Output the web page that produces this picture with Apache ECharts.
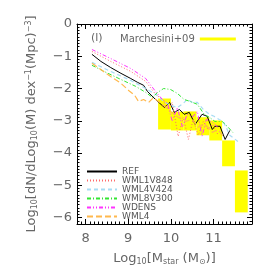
<!DOCTYPE html>
<html><head><meta charset="utf-8">
<script src="https://cdn.jsdelivr.net/npm/echarts@6/dist/echarts.min.js"></script>
<style>html,body{margin:0;padding:0;background:#fff}#c{width:274px;height:274px}</style>
</head><body><div id="c"></div>
<script>
// ---- data (log10 stellar mass, log10 number density) ----
const refX=[8.15,8.36,8.59,8.83,9.06,9.22,9.36,9.45,9.64,9.85,9.97,10.08,10.20,10.31,10.43,10.57,10.73,10.85,10.97,11.03,11.15,11.27,11.38];
const refY=[-0.94,-1.16,-1.35,-1.53,-1.69,-1.81,-1.90,-2.09,-2.34,-2.59,-2.43,-2.74,-2.65,-2.80,-2.74,-3.11,-2.80,-2.86,-3.27,-3.17,-3.17,-3.58,-3.30];

const wml1X=[8.15,8.59,9.06,9.41,9.64,9.80,9.94,10.03,10.17,10.29,10.41,10.52,10.64,10.76,10.87,10.97,11.10];
const wml1Y=[-0.85,-1.16,-1.47,-1.78,-2.18,-2.34,-2.65,-2.43,-3.48,-2.89,-3.58,-2.96,-3.45,-3.02,-3.27,-3.11,-3.42];

const wml4v424X=[8.15,8.59,9.06,9.41,9.64,9.83,9.99,10.15,10.29,10.38,10.50,10.62,10.76,10.90,11.01,11.13,11.24,11.38,11.57];
const wml4v424Y=[-1.19,-1.47,-1.75,-2.00,-2.18,-2.40,-2.52,-2.59,-2.46,-2.34,-2.43,-2.43,-2.65,-2.80,-2.86,-2.96,-3.05,-3.45,-3.64];

const wml8X=[8.15,8.48,8.83,9.17,9.41,9.57,9.69,9.83,9.99,10.15,10.31,10.45,10.62,10.78,10.90,11.03,11.20,11.34,11.45];
const wml8Y=[-1.28,-1.50,-1.72,-1.93,-2.12,-2.28,-2.12,-2.00,-2.03,-2.15,-2.34,-2.40,-2.49,-2.80,-2.89,-3.02,-3.02,-3.20,-3.36];

const wdensX=[8.15,8.59,9.06,9.41,9.64,9.80,9.92,10.03,10.15,10.27,10.38,10.50,10.62,10.73,10.83,10.97,11.10];
const wdensY=[-0.79,-1.07,-1.38,-1.69,-2.09,-2.34,-2.46,-3.02,-2.59,-3.20,-2.80,-2.89,-2.71,-3.48,-2.96,-3.05,-3.20];

const wml4X=[8.15,8.36,8.59,8.83,9.01,9.15,9.24,9.36,9.48,9.59,9.71,9.85,9.99,10.17,10.34,10.50,10.64,10.80,10.97,11.10,11.24];
const wml4Y=[-1.22,-1.41,-1.63,-1.84,-2.06,-2.21,-2.40,-2.34,-2.43,-2.28,-2.40,-2.55,-2.71,-2.89,-3.02,-2.96,-3.20,-3.11,-3.36,-3.27,-3.51];

// Marchesini+09 boxes
const marchXlo=[9.7,10.0,10.3,10.6,10.9,11.2,11.5];
const marchXhi=[10.0,10.3,10.6,10.9,11.2,11.5,11.8];
const marchYhi=[-2.31,-2.72,-2.71,-2.89,-2.99,-3.61,-4.54];
const marchYlo=[-3.27,-3.30,-3.30,-3.45,-3.61,-4.41,-5.84];

const xTicks=[8,9,10,11];
const yTicks=[0,-1,-2,-3,-4,-5,-6];

const pairs=(xs,ys)=>xs.map((x,i)=>[x,ys[i]]);
const isInt=v=>Math.abs(v-Math.round(v))<1e-6;

const chart=echarts.init(document.getElementById('c'),null,{renderer:'canvas'});
const gray='#666';
const lineAxis={onZero:false,lineStyle:{color:'#000',width:1}};
function xa(pos,major,labels){
  const o={type:'value',min:7.8,max:11.9,position:pos,gridIndex:0,
    axisLine:major?{show:false,onZero:false}:lineAxis,
    axisTick:{inside:true,length:major?5:2.5,lineStyle:{color:'#000'}},
    splitLine:{show:false},
    axisLabel:labels?{show:true,color:gray,fontSize:13,margin:8,fontFamily:'DejaVu Sans',
      formatter:v=>isInt(v)&&xTicks.includes(Math.round(v))?String(Math.round(v)):''}:{show:false}};
  if(major){o.minInterval=1;o.maxInterval=1;} else {o.interval=0.1;}
  return o;
}
function ya(pos,major,labels){
  const o={type:'value',min:-6.2,max:0,position:pos,gridIndex:0,
    axisLine:major?{show:false,onZero:false}:lineAxis,
    axisTick:{inside:true,length:major?5:2.5,lineStyle:{color:'#000'}},
    splitLine:{show:false},
    axisLabel:labels?{show:true,color:gray,fontSize:13,margin:5,fontFamily:'DejaVu Sans',
      formatter:v=>{if(!isInt(v))return '';const r=Math.round(v);if(!yTicks.includes(r))return '';return r===0?'0':'\u2212'+Math.abs(r);}}:{show:false}};
  if(major){o.minInterval=1;o.maxInterval=1;} else {o.interval=0.1;}
  return o;
}
const yMajor=ya('left',true,true);
yMajor.name='Log{s|10}[dN/dLog{s|10}(M) dex{u|\u22121}(Mpc){u|\u22123}]';
yMajor.nameLocation='middle';yMajor.nameRotate=90;yMajor.nameGap=38;
yMajor.nameTextStyle={color:gray,fontSize:13,fontFamily:'DejaVu Sans',
  rich:{s:{fontSize:8,color:gray,verticalAlign:'bottom',padding:[6,0,0,0]},u:{fontSize:8,color:gray,verticalAlign:'top',padding:[0,0,6,0]}}};
const xMajor=xa('bottom',true,true);
xMajor.name='Log{s|10}[M{s|star} (M{s|\u2299})]';
xMajor.nameLocation='middle';xMajor.nameGap=28;
xMajor.nameTextStyle={color:gray,fontSize:13,fontFamily:'DejaVu Sans',
  rich:{s:{fontSize:8,color:gray,verticalAlign:'bottom',padding:[6,0,0,0]}}};

const lineSeries=(name,xs,ys,color,type,width)=>({
  name,type:'line',xAxisIndex:0,yAxisIndex:0,data:pairs(xs,ys),showSymbol:false,symbol:'none',
  lineStyle:{color,width:width||1,type},itemStyle:{color},z:5,animation:false
});

chart.setOption({
  animation:false,
  backgroundColor:'#fff',
  grid:{left:77,top:24,right:22,bottom:50,containLabel:false},
  xAxis:[xa('bottom',false,false),xMajor,xa('top',false,false),xa('top',true,false)],
  yAxis:[ya('left',false,false),yMajor,ya('right',false,false),ya('right',true,false)],
  legend:[
    {data:['REF','WML1V848','WML4V424','WML8V300','WDENS','WML4'],orient:'vertical',left:86,top:167,
     itemWidth:30,itemHeight:8,itemGap:0,padding:0,selectedMode:false,
     itemStyle:{opacity:0,borderWidth:0},
     textStyle:{fontSize:9,color:'#555',fontFamily:'DejaVu Sans'}},
    {data:[{name:'Marchesini+09',icon:'rect'}],left:120,top:34,align:'right',itemWidth:36,itemHeight:3,
     padding:0,selectedMode:false,textStyle:{fontSize:10,color:gray,fontFamily:'DejaVu Sans'}}
  ],
  graphic:[{type:'text',left:91,top:33,style:{text:'(l)',fill:gray,font:'11px DejaVu Sans'}}],
  series:[
    {name:'Marchesini+09',type:'custom',xAxisIndex:0,yAxisIndex:0,itemStyle:{color:'#ffff00'},z:1,
     data:marchXlo.map((x,i)=>[x,marchXhi[i],marchYlo[i],marchYhi[i]]),
     encode:{x:[0,1],y:[2,3]},
     renderItem:(params,api)=>{
       const a=api.coord([api.value(0),api.value(3)]);
       const b=api.coord([api.value(1),api.value(2)]);
       return {type:'rect',shape:{x:a[0],y:a[1],width:b[0]-a[0],height:b[1]-a[1]},style:{fill:'#ffff00'}};
     }},
    lineSeries('REF',refX,refY,'#000000','solid',1),
    lineSeries('WML1V848',wml1X,wml1Y,'#ff6a6a',[1,2],1),
    lineSeries('WML4V424',wml4v424X,wml4v424Y,'#a8dcf4',[4,3],1.2),
    lineSeries('WML8V300',wml8X,wml8Y,'#33e633',[4,2,1,2],1),
    lineSeries('WDENS',wdensX,wdensY,'#ff33ff',[4,2,1,2,1,2],1),
    lineSeries('WML4',wml4X,wml4Y,'#ffb84d',[6,3],1.2)
  ]
});
</script></body></html>
